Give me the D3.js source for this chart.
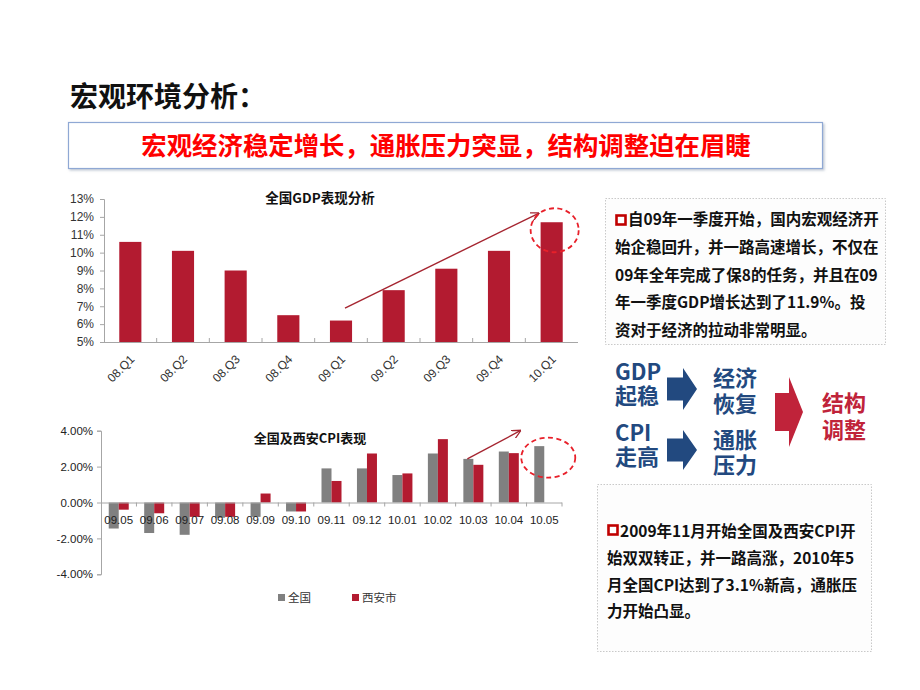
<!DOCTYPE html>
<html><head><meta charset="utf-8">
<script src="https://cdn.jsdelivr.net/npm/d3@7"></script>
<style>
html,body{margin:0;padding:0;background:#fff;}
svg{display:block;}
</style></head>
<body>
<svg id="c" width="920" height="690"></svg>
<script>
// ---- data ----
const gdpCategories = ["08.Q1","08.Q2","08.Q3","08.Q4","09.Q1","09.Q2","09.Q3","09.Q4","10.Q1"];
const gdpValues = [10.6, 10.1, 9.0, 6.5, 6.2, 7.9, 9.1, 10.1, 11.7];
const gdpTicks = [5,6,7,8,9,10,11,12,13];

const cpiCategories = ["09.05","09.06","09.07","09.08","09.09","09.10","09.11","09.12","10.01","10.02","10.03","10.04","10.05"];
const cpiNational = [-1.45,-1.7,-1.8,-0.85,-0.8,-0.5,1.9,1.9,1.53,2.73,2.43,2.84,3.14];
const cpiXian     = [-0.4,-0.6,-0.8,-0.8,0.5,-0.5,1.2,2.73,1.62,3.53,2.1,2.75,null];
const cpiTicks = [-4,-2,0,2,4];
const cpiSeries = ["全国","西安市"];

const box1Lines = ["自09年一季度开始，国内宏观经济开","始企稳回升，并一路高速增长，不仅在","09年全年完成了保8的任务，并且在09","年一季度GDP增长达到了11.9%。投","资对于经济的拉动非常明显。"];
const box2Lines = ["2009年11月开始全国及西安CPI开","始双双转正，并一路高涨，2010年5","月全国CPI达到了3.1%新高，通胀压","力开始凸显。"];

// ---- styles ----
const CJK = "'Noto Sans CJK SC','Noto Sans',sans-serif";
const LAT = "'Liberation Sans',Arial,sans-serif";
const RED = "#B31B30", GRAY = "#808080", AXIS = "#a6a6a6";

const svg = d3.select("#c");
svg.append("rect").attr("width",920).attr("height",690).attr("fill","#fff");

const defs = svg.append("defs");
defs.append("marker").attr("id","arr").attr("viewBox","0 0 10 10")
  .attr("refX",9).attr("refY",5).attr("markerWidth",9).attr("markerHeight",9)
  .attr("markerUnits","userSpaceOnUse").attr("orient","auto")
  .append("path").attr("d","M0,0 L10,5 L0,10").attr("fill","none")
  .attr("stroke","#A52530").attr("stroke-width",1.4);
const sh = defs.append("filter").attr("id","sh").attr("x","-5%").attr("y","-20%").attr("width","110%").attr("height","150%");
sh.append("feDropShadow").attr("dx",1.5).attr("dy",1.5).attr("stdDeviation",1).attr("flood-color","#9aa6b8").attr("flood-opacity",0.6);

// ---- headings ----
svg.append("text").attr("x",70).attr("y",97).attr("dy","0.35em")
  .attr("font-family",CJK).attr("font-weight",700).attr("font-size",28).attr("fill","#111")
  .text("宏观环境分析：");
svg.append("rect").attr("x",68.5).attr("y",122.5).attr("width",754).attr("height",46)
  .attr("fill","#fff").attr("stroke","#8FA8D4").attr("stroke-width",1.2).attr("filter","url(#sh)");
svg.append("text").attr("x",446).attr("y",146).attr("dy","0.35em").attr("text-anchor","middle")
  .attr("font-family",CJK).attr("font-weight",700).attr("font-size",25.4).attr("fill","#FF0000")
  .text("宏观经济稳定增长，通胀压力突显，结构调整迫在眉睫");

// ---- GDP chart ----
const gx = d3.scaleBand().domain(gdpCategories).range([104,578]).paddingInner(0.58).paddingOuter(0.29);
const gy = d3.scaleLinear().domain([5,13]).range([342,199]);
const g1 = svg.append("g");
const gyAxis = g1.append("g").attr("transform","translate(104,0)")
  .call(d3.axisLeft(gy).tickValues(gdpTicks).tickSize(4).tickPadding(6).tickFormat(d=>d+"%"));
gyAxis.select(".domain").attr("stroke",AXIS);
gyAxis.selectAll(".tick line").attr("stroke",AXIS);
gyAxis.selectAll("text").attr("font-family",LAT).attr("font-size",12).attr("fill","#333");
g1.selectAll("rect.gb").data(gdpValues).join("rect").attr("class","gb")
  .attr("x",(d,i)=>gx(gdpCategories[i])).attr("width",gx.bandwidth())
  .attr("y",d=>gy(d)).attr("height",d=>gy(5)-gy(d)).attr("fill",RED);
g1.append("line").attr("x1",104).attr("x2",578).attr("y1",342.5).attr("y2",342.5).attr("stroke",AXIS);
const gGap = (gx.step()-gx.bandwidth())/2;
g1.selectAll("line.gt").data(gdpCategories.slice(1)).join("line").attr("class","gt")
  .attr("x1",d=>gx(d)-gGap).attr("x2",d=>gx(d)-gGap)
  .attr("y1",342).attr("y2",338).attr("stroke",AXIS);
g1.selectAll("text.gl").data(gdpCategories).join("text").attr("class","gl")
  .attr("transform",d=>`translate(${gx(d)+gx.bandwidth()/2+5},360) rotate(-45)`)
  .attr("text-anchor","end").attr("font-family",LAT).attr("font-size",12).attr("fill","#333").text(d=>d);
g1.append("text").attr("x",320).attr("y",198).attr("dy","0.35em").attr("text-anchor","middle")
  .attr("font-family",CJK).attr("font-weight",700).attr("font-size",13.5).attr("fill","#111").text("全国GDP表现分析");
// trend arrow & highlight
const q1 = gdpCategories[4], qLast = gdpCategories[8];
g1.append("line").attr("x1",gx(q1)+gx.bandwidth()/2+4).attr("y1",gy(6.9))
  .attr("x2",gx(qLast)-2).attr("y2",gy(12.2)).attr("stroke","#A52530").attr("stroke-width",1.4).attr("marker-end","url(#arr)");
g1.append("ellipse").attr("cx",gx(qLast)+gx.bandwidth()/2+3).attr("cy",gy(11.7)+8).attr("rx",24).attr("ry",22)
  .attr("fill","none").attr("stroke","#E8202A").attr("stroke-width",1.8).attr("stroke-dasharray","5,3.5");

// ---- CPI chart ----
const cx0 = d3.scaleBand().domain(cpiCategories).range([101,562]).paddingInner(0.436).paddingOuter(0.218);
const cx1 = d3.scaleBand().domain(cpiSeries).range([0,cx0.bandwidth()]);
const cy = d3.scaleLinear().domain([-4,4]).range([574.3,430.7]);
const g2 = svg.append("g");
const cyAxis = g2.append("g").attr("transform","translate(101,0)")
  .call(d3.axisLeft(cy).tickValues(cpiTicks).tickSize(4).tickPadding(4).tickFormat(d=>d.toFixed(2)+"%"));
cyAxis.select(".domain").attr("stroke",AXIS);
cyAxis.selectAll(".tick line").attr("stroke",AXIS);
cyAxis.selectAll("text").attr("font-family",LAT).attr("font-size",11.5).attr("fill","#222");
const colors = {"全国":GRAY,"西安市":RED};
cpiCategories.forEach((c,i)=>{
  [[cpiSeries[0],cpiNational[i]],[cpiSeries[1],cpiXian[i]]].forEach(([s,v])=>{
    if(v==null) return;
    g2.append("rect").attr("x",cx0(c)+cx1(s)).attr("width",cx1.bandwidth())
      .attr("y",cy(Math.max(0,v))).attr("height",Math.abs(cy(v)-cy(0))).attr("fill",colors[s]);
  });
});
g2.append("line").attr("x1",101).attr("x2",562).attr("y1",cy(0)+0.5).attr("y2",cy(0)+0.5).attr("stroke",AXIS);
const cStep = cx0.step();
g2.selectAll("line.ct").data(cpiCategories).join("line").attr("class","ct")
  .attr("x1",(d,i)=>101+cStep*(i+1)).attr("x2",(d,i)=>101+cStep*(i+1))
  .attr("y1",cy(0)).attr("y2",cy(0)+4).attr("stroke",AXIS);
g2.selectAll("text.cl").data(cpiCategories).join("text").attr("class","cl")
  .attr("x",d=>cx0(d)+cx0.bandwidth()/2).attr("y",520).attr("dy","0.35em").attr("text-anchor","middle")
  .attr("font-family",LAT).attr("font-size",11.5).attr("fill","#222").text(d=>d);
g2.append("text").attr("x",310).attr("y",438).attr("dy","0.35em").attr("text-anchor","middle")
  .attr("font-family",CJK).attr("font-weight",700).attr("font-size",13).attr("fill","#111").text("全国及西安CPI表现");
// legend
const leg = [[cpiSeries[0],278,288],[cpiSeries[1],352,362]];
leg.forEach(([s,sx,tx])=>{
  g2.append("rect").attr("x",sx).attr("y",594).attr("width",7).attr("height",7).attr("fill",colors[s]);
  g2.append("text").attr("x",tx).attr("y",598).attr("dy","0.35em").attr("font-family",CJK)
    .attr("font-size",11.5).attr("fill","#333").text(s);
});
// trend arrow & highlight
const m3 = cpiCategories[10], m5 = cpiCategories[12];
g2.append("line").attr("x1",cx0(m3)+cx1(cpiSeries[0])+4).attr("y1",cy(cpiNational[10]))
  .attr("x2",cx0(m5)-14).attr("y2",cy(4)).attr("stroke","#A52530").attr("stroke-width",1.4).attr("marker-end","url(#arr)");
g2.append("ellipse").attr("cx",cx0(m5)+cx0.bandwidth()/2+4).attr("cy",cy(2.5)).attr("rx",27).attr("ry",20)
  .attr("fill","none").attr("stroke","#E8202A").attr("stroke-width",1.8).attr("stroke-dasharray","5,3.5");

// ---- right text boxes ----
function textBox(x,y,w,h,lines,firstX,restX,y0,lh,sqX,sqY){
  svg.append("rect").attr("x",x+0.5).attr("y",y+0.5).attr("width",w).attr("height",h)
    .attr("fill","#fdfdfd").attr("stroke","#c9c9c9").attr("stroke-dasharray","1.5,1.5");
  svg.append("rect").attr("x",sqX).attr("y",sqY).attr("width",9).attr("height",9)
    .attr("fill","#fff").attr("stroke","#C00000").attr("stroke-width",2.6);
  lines.forEach((t,i)=>{
    svg.append("text").attr("x",i===0?firstX:restX).attr("y",y0+i*lh).attr("dy","0.35em")
      .attr("font-family",CJK).attr("font-weight",700).attr("font-size",15.5).attr("fill","#111").text(t);
  });
}
textBox(605,198,280,146,box1Lines,628,615,220,27.6,616.5,215.5);
textBox(597,484,274,167,box2Lines,620,607,531.5,26.8,608.5,525.5);

// ---- flow diagram ----
const BLUE = "#22497F", FRED = "#C0233A";
function arrow(x0,bodyEnd,tip,yc,bh,hh,col){
  svg.append("path").attr("d",`M${x0},${yc-bh/2} L${bodyEnd},${yc-bh/2} L${bodyEnd},${yc-hh/2} L${tip},${yc} L${bodyEnd},${yc+hh/2} L${bodyEnd},${yc+bh/2} L${x0},${yc+bh/2} Z`)
    .attr("fill",col);
}
arrow(667,683,697,389,23,42,BLUE);
arrow(667,683,697,450,23,40,BLUE);
arrow(775,789,803,412,38,70,FRED);
const flowTexts = [["GDP",615,372,BLUE],["起稳",615,396,BLUE],["CPI",615,433,BLUE],["走高",615,457,BLUE],
  ["经济",713,378,BLUE],["恢复",713,404,BLUE],["通胀",713,440,BLUE],["压力",713,465,BLUE],
  ["结构",822,403,FRED],["调整",822,430,FRED]];
flowTexts.forEach(([t,x,y,c])=>{
  svg.append("text").attr("x",x).attr("y",y).attr("dy","0.35em").attr("font-family",CJK)
    .attr("font-weight",700).attr("font-size",22).attr("fill",c).text(t);
});
</script>
</body></html>
